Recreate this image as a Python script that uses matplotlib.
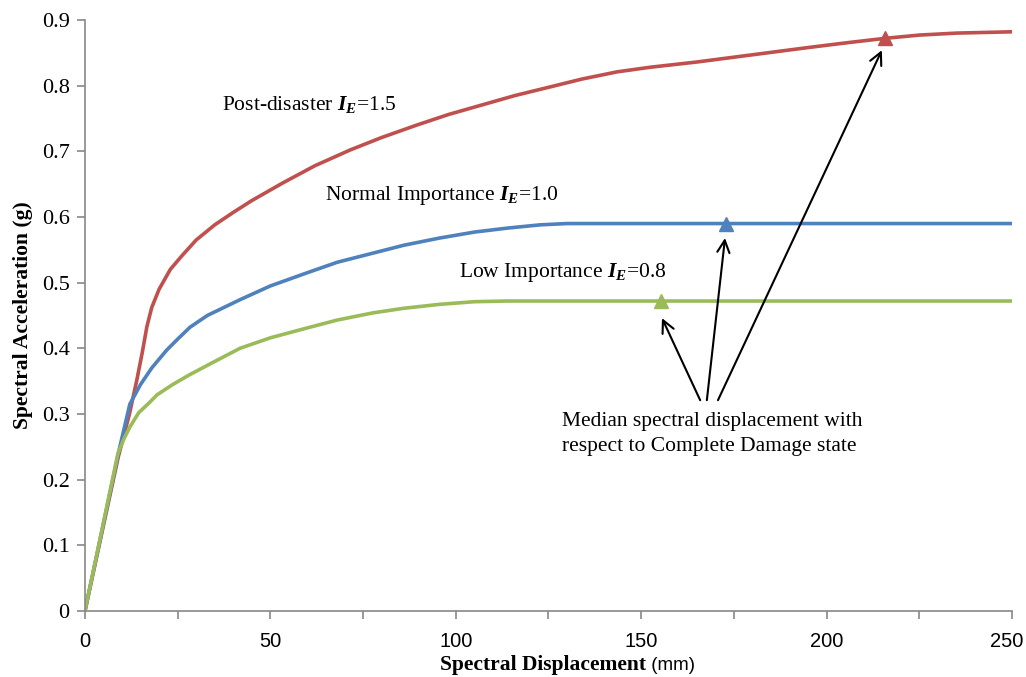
import matplotlib
matplotlib.use('Agg')
import matplotlib.pyplot as plt
from matplotlib.ticker import MultipleLocator
from matplotlib.transforms import ScaledTranslation

plt.rcParams['font.family'] = ['Liberation Serif', 'DejaVu Serif']
plt.rcParams['mathtext.fontset'] = 'custom'
plt.rcParams['mathtext.rm'] = 'Liberation Serif'
plt.rcParams['mathtext.bfit'] = 'Liberation Serif:italic:bold'

# curves (Sd in mm, Sa in g)
post_sd = [0, 9, 12, 14, 15.5, 16.7, 18, 20, 23, 26, 30, 35, 40, 45, 53.4, 62, 71.5, 80, 89.5, 98,
           107.3, 116, 125.4, 134, 143.5, 152.4, 165, 180, 195, 205, 215.7, 225, 235, 250]
post_sa = [0, 0.235, 0.30, 0.352, 0.395, 0.433, 0.462, 0.49, 0.52, 0.54, 0.565, 0.588, 0.607, 0.625,
           0.652, 0.678, 0.702, 0.721, 0.740, 0.756, 0.771, 0.785, 0.798, 0.810, 0.821, 0.828, 0.836,
           0.847, 0.858, 0.865, 0.872, 0.877, 0.880, 0.882]
normal_sd = [0, 9, 12.1, 15, 18, 22, 25, 28.3, 33, 41.8, 50, 59.9, 68, 77.7, 86, 95.7, 105, 113.8,
             122.7, 130, 138, 250]
normal_sa = [0, 0.24, 0.315, 0.345, 0.37, 0.397, 0.414, 0.432, 0.45, 0.474, 0.495, 0.515, 0.531,
             0.545, 0.557, 0.568, 0.577, 0.583, 0.588, 0.59, 0.59, 0.59]
low_sd = [0, 8.9, 10.5, 12.1, 14.5, 17.5, 19.4, 23.7, 28.3, 35, 41.8, 50, 59.9, 68, 77.7, 86, 95.7,
          105, 113.8, 250]
low_sa = [0, 0.24, 0.262, 0.28, 0.302, 0.318, 0.329, 0.345, 0.36, 0.38, 0.400, 0.416, 0.431, 0.443,
          0.454, 0.461, 0.467, 0.471, 0.472, 0.472]

# median Sd for complete damage state
median_sd = [215.7, 172.9, 155.3]
median_sa = [0.872, 0.59, 0.472]

red = '#C0504D'
blue = '#4F81BD'
green = '#9BBB59'
sans = ['Liberation Sans', 'DejaVu Sans']

fig = plt.figure(figsize=(10.26, 6.77), dpi=100)
ax = fig.add_axes([0.0828, 0.0975, 0.9036, 0.873])

ax.plot(post_sd, post_sa, color=red, lw=2.6)
ax.plot(normal_sd, normal_sa, color=blue, lw=2.6)
ax.plot(low_sd, low_sa, color=green, lw=2.6)
for (x, y, c) in zip(median_sd, median_sa, [red, blue, green]):
    ax.plot(x, y, marker='^', color=c, ms=10, mec=c)

ax.set_xlim(0, 250)
ax.set_ylim(0, 0.9)
ax.xaxis.set_major_locator(MultipleLocator(50))
ax.xaxis.set_minor_locator(MultipleLocator(25))
ax.yaxis.set_major_locator(MultipleLocator(0.1))
ax.yaxis.set_major_formatter(plt.FuncFormatter(lambda v, p: '0' if abs(v) < 1e-9 else f'{v:.1f}'))

for s in ['top', 'right']:
    ax.spines[s].set_visible(False)
for s in ['left', 'bottom']:
    ax.spines[s].set_color('#888888')
    ax.spines[s].set_linewidth(1.2)
ax.tick_params(axis='both', which='both', color='#888888', width=1.2, length=6, direction='out')
ax.tick_params(axis='y', labelsize=16, pad=5)
ax.tick_params(axis='x', labelsize=14.5, pad=9)

ax.set_ylabel('Spectral Acceleration (g)', fontsize=15.5, fontweight='bold', labelpad=6)
t1 = ax.text(0.383, -0.100, 'Spectral Displacement', transform=ax.transAxes, ha='left',
             va='baseline', fontsize=15.5, fontweight='bold')
ax.annotate(' (mm)', xy=(1, -0.100), xycoords=(t1, ax.transAxes), ha='left', va='baseline',
            fontsize=13.5, family=sans)

ax.text(36.9, 0.770, r'Post-disaster $\mathbfit{I}_{\mathbfit{E}}$=1.5', fontsize=15.5, va='center')
ax.text(64.7, 0.633, r'Normal Importance $\mathbfit{I}_{\mathbfit{E}}$=1.0', fontsize=15.5, va='center')
ax.text(100.9, 0.516, r'Low Importance $\mathbfit{I}_{\mathbfit{E}}$=0.8', fontsize=15.5, va='center')
ax.text(128.6, 0.303, 'Median spectral displacement with\nrespect to Complete Damage state',
        fontsize=15.5, va='top', linespacing=1.4)

# arrows from the note to the markers
arrow_tail = [(170.7, 0.321), (167.7, 0.321), (165.9, 0.321)]
arrow_head = [(214.9, 0.854), (172.6, 0.568), (155.6, 0.446)]
for t, h in zip(arrow_tail, arrow_head):
    ax.annotate('', xy=h, xytext=t,
                arrowprops=dict(arrowstyle='->', color='black', lw=1.5,
                                mutation_scale=22, shrinkA=0, shrinkB=0))

# draw once so the tick labels exist, then style them
fig.canvas.draw()
for tick in ax.xaxis.get_major_ticks():
    tick.label1.set_family(sans)
last = [t for t in ax.xaxis.get_major_ticks() if abs(t.get_loc() - 250) < 1e-6]
for t in last:
    t.label1.set_horizontalalignment('right')
    t.label1.set_transform(t.label1.get_transform() + ScaledTranslation(0.11, 0, fig.dpi_scale_trans))

fig.savefig('out.png', dpi=100)
